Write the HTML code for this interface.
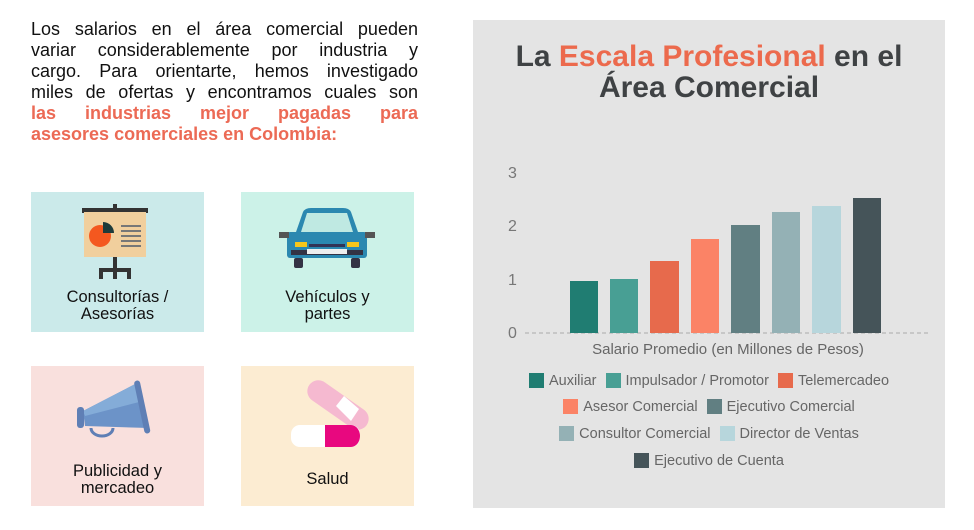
<!DOCTYPE html>
<html><head><meta charset="utf-8"><style>
body{margin:0;width:974px;height:530px;background:#fff;position:relative;overflow:hidden;font-family:"Liberation Sans",sans-serif}
.intro{position:absolute;left:31px;top:19px;width:387px;font-size:18px;line-height:21px;color:#111}
.intro div{text-align:justify;text-align-last:justify;white-space:nowrap}
.intro .o{color:#ec6a55;font-weight:bold}
.box{position:absolute;width:173px;height:140px;text-align:center;font-size:16.5px;line-height:17px;color:#111}
.box .t{position:absolute;left:0;right:0}
.panel{position:absolute;left:473px;top:20px;width:472px;height:488px;background:#e4e4e4}
.title{position:absolute;left:0;right:0;top:21px;text-align:center;font-weight:bold;font-size:30px;line-height:31px;color:#3f4244}
.title span{color:#ec6a4d}
.lg{position:absolute;left:0;right:0;text-align:center;font-size:14.5px;color:#666;white-space:nowrap}
.lg i{display:inline-block;width:15px;height:15px;vertical-align:-3px;margin:0 5px 0 9px}
</style></head><body>
<div class="intro">
<div>Los salarios en el área comercial pueden</div>
<div>variar considerablemente por industria y</div>
<div>cargo. Para orientarte, hemos investigado</div>
<div>miles de ofertas y encontramos cuales son</div>
<div class="o">las industrias mejor pagadas para</div>
<div class="o" style="text-align-last:left">asesores comerciales en Colombia:</div>
</div>

<div class="box" style="left:31px;top:192px;background:#cbeaea">
<svg width="173" height="90" style="position:absolute;left:0;top:0">
<rect x="51" y="16" width="66" height="5" fill="#333"/><rect x="82" y="12" width="4" height="6" fill="#333"/>
<rect x="53" y="20" width="62" height="45" fill="#f1cf9d"/>
<circle cx="69" cy="44" r="11" fill="#f4581f"/><path d="M72 30 a11 11 0 0 1 11 11 h-11z" fill="#1d3b3b"/>
<g fill="#777"><rect x="90" y="33" width="20" height="2"/><rect x="90" y="38" width="20" height="2"/><rect x="90" y="43" width="20" height="2"/><rect x="90" y="48" width="20" height="2"/><rect x="90" y="53" width="20" height="2"/></g>
<rect x="82" y="65" width="4" height="22" fill="#333"/><rect x="68" y="76" width="32" height="4" fill="#333"/><rect x="68" y="76" width="4" height="11" fill="#333"/><rect x="96" y="76" width="4" height="11" fill="#333"/>
</svg>
<div class="t" style="top:97px">Consultorías /<br>Asesorías</div></div>

<div class="box" style="left:241px;top:192px;background:#ccf2e8">
<svg width="173" height="90" style="position:absolute;left:0;top:0">
<path d="M62 20 Q64 16 70 16 H102 Q108 16 110 20 L117 40 H55z" fill="#2b88b0"/>
<path d="M66 21 H106 L112 40 H60z" fill="#bfe9e2"/>
<rect x="46" y="40" width="80" height="26" rx="3" fill="#2b88b0"/>
<rect x="38" y="40" width="10" height="6" fill="#555"/><rect x="124" y="40" width="10" height="6" fill="#555"/>
<rect x="54" y="50" width="12" height="5" fill="#f7c61a"/><rect x="106" y="50" width="12" height="5" fill="#f7c61a"/>
<rect x="68" y="52" width="36" height="3" fill="#335"/>
<rect x="50" y="58" width="72" height="5" fill="#334"/><rect x="66" y="57" width="40" height="5" fill="#eee"/>
<rect x="53" y="66" width="9" height="10" rx="2" fill="#334"/><rect x="110" y="66" width="9" height="10" rx="2" fill="#334"/>
</svg>
<div class="t" style="top:97px">Vehículos y<br>partes</div></div>

<div class="box" style="left:31px;top:366px;background:#f9e0dd">
<svg width="173" height="90" style="position:absolute;left:0;top:0">
<path d="M52 45 L108 16 L118 62 L54 60z" fill="#6c93c8"/><path d="M52 45 L108 16 L112 35 L54 50z" fill="#84acd8"/>
<rect x="46" y="41" width="7" height="21" rx="3" fill="#5f7fb5"/>
<rect x="108" y="14" width="6" height="54" rx="3" fill="#5f7fb5" transform="rotate(-12 111 40)"/>
<path d="M60 62 a11 8 0 0 0 22 0" fill="none" stroke="#5f7fb5" stroke-width="3"/>
</svg>
<div class="t" style="top:97px">Publicidad y<br>mercadeo</div></div>

<div class="box" style="left:241px;top:366px;background:#fcecd2">
<svg width="173" height="90" style="position:absolute;left:0;top:0">
<rect x="62" y="28" width="70" height="22" rx="11" fill="#f5b9d0" transform="rotate(35 97 39)"/>
<path d="M95 40 L110 55 L118 43 L103 30z" fill="#fff"/>
<rect x="50" y="59" width="69" height="22" rx="9" fill="#fff"/>
<path d="M84 59 H110 a9 11 0 0 1 0 22 H84z" fill="#e8087f"/>
</svg>
<div class="t" style="top:105px">Salud</div></div>

<div class="panel">
<div class="title">La <span>Escala Profesional</span> en el<br>Área Comercial</div>
<svg width="472" height="488" style="position:absolute;left:0;top:0;font-family:'Liberation Sans',sans-serif">
<g fill="#777" font-size="16"><text x="35" y="158">3</text><text x="35" y="211">2</text><text x="35" y="265">1</text><text x="35" y="318">0</text></g>
<line x1="52" y1="313" x2="458" y2="313" stroke="#aaa" stroke-dasharray="4,3"/>
<rect x="97" y="261" width="28" height="52" fill="#207d72"/>
<rect x="137" y="259" width="28" height="54" fill="#489f94"/>
<rect x="177" y="241" width="29" height="72" fill="#e76a4c"/>
<rect x="218" y="219" width="28" height="94" fill="#fb8366"/>
<rect x="258" y="205" width="29" height="108" fill="#617f82"/>
<rect x="299" y="192" width="28" height="121" fill="#94b1b5"/>
<rect x="339" y="186" width="29" height="127" fill="#b7d6dc"/>
<rect x="380" y="178" width="28" height="135" fill="#455459"/>
<text x="255" y="334" text-anchor="middle" font-size="15" fill="#666">Salario Promedio (en Millones de Pesos)</text>
</svg>
<div class="lg" style="top:353px"><i style="background:#207d72;margin-left:0"></i>Auxiliar<i style="background:#489f94"></i>Impulsador / Promotor<i style="background:#e76a4c"></i>Telemercadeo</div>
<div class="lg" style="top:379px"><i style="background:#fb8366;margin-left:0"></i>Asesor Comercial<i style="background:#617f82"></i>Ejecutivo Comercial</div>
<div class="lg" style="top:406px"><i style="background:#94b1b5;margin-left:0"></i>Consultor Comercial<i style="background:#b7d6dc"></i>Director de Ventas</div>
<div class="lg" style="top:433px"><i style="background:#455459;margin-left:0"></i>Ejecutivo de Cuenta</div>
</div>
</body></html>
